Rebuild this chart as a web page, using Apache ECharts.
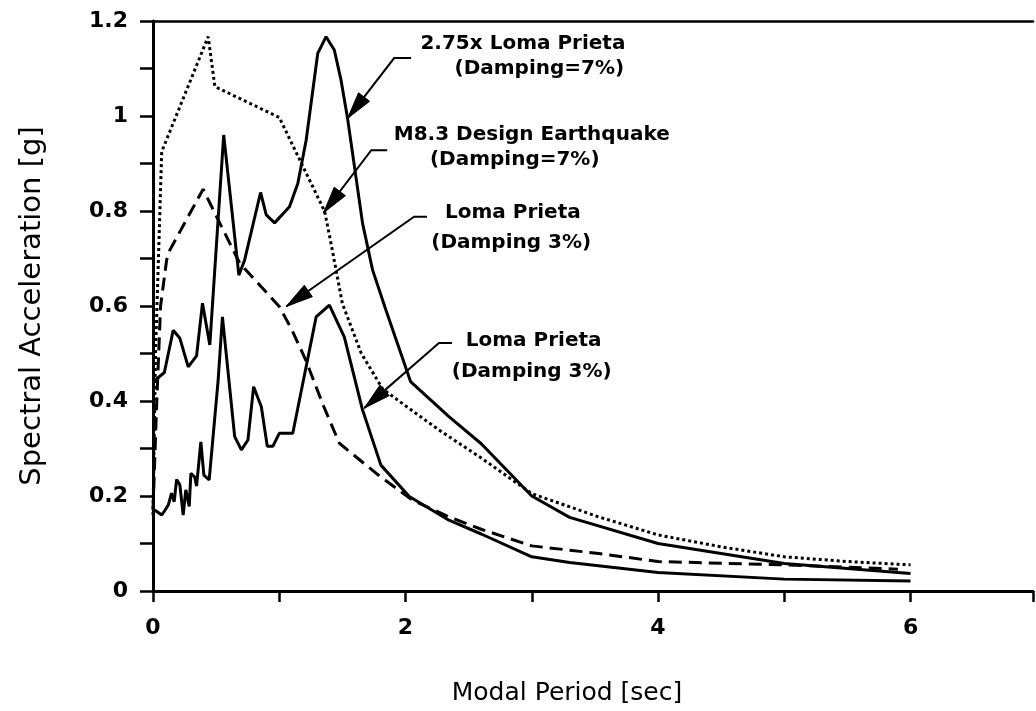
<!DOCTYPE html>
<html>
<head>
<meta charset="utf-8">
<script src="https://cdn.jsdelivr.net/npm/echarts@6/dist/echarts.min.js"></script>
<style>
html,body{margin:0;padding:0;background:#fff;}
#chart{width:1036px;height:711px;}
</style>
</head>
<body>
<div id="chart"></div>
<script>
// ---- Data ----
var designX = [0, 0.02, 0.069, 0.437, 0.49, 1.0, 1.36, 1.42, 1.5, 1.65, 1.82, 2.0, 2.265, 2.6, 3.0, 3.53, 4.0, 4.5, 5.0, 5.5, 6.0];
var designY = [0.16, 0.5, 0.925, 1.167, 1.062, 0.997, 0.799, 0.718, 0.605, 0.5, 0.425, 0.39, 0.339, 0.28, 0.205, 0.156, 0.118, 0.093, 0.072, 0.062, 0.055];

var lp275X = [0, 0.09, 0.16, 0.213, 0.279, 0.345, 0.392, 0.45, 0.56, 0.68, 0.726, 0.852, 0.897, 0.963, 1.081, 1.147, 1.213, 1.305, 1.371, 1.436, 1.489, 1.541, 1.66, 1.739, 1.844, 2.04, 2.344, 2.6, 3.0, 3.3, 4.0, 5.0, 6.0];
var lp275Y = [0.44, 0.46, 0.549, 0.532, 0.472, 0.495, 0.606, 0.518, 0.96, 0.665, 0.697, 0.839, 0.792, 0.775, 0.809, 0.858, 0.949, 1.132, 1.167, 1.139, 1.076, 0.995, 0.774, 0.676, 0.592, 0.441, 0.367, 0.31, 0.2, 0.155, 0.10, 0.058, 0.037];

var lpLowX = [0, 0.016, 0.069, 0.095, 0.121, 0.147, 0.168, 0.187, 0.213, 0.239, 0.26, 0.287, 0.30, 0.33, 0.345, 0.379, 0.403, 0.445, 0.516, 0.55, 0.647, 0.70, 0.752, 0.797, 0.858, 0.905, 0.95, 1.0, 1.107, 1.292, 1.397, 1.515, 1.66, 1.805, 2.03, 2.344, 2.6, 3.0, 3.3, 4.0, 5.0, 6.0];
var lpLowY = [0.17, 0.17, 0.16, 0.17, 0.181, 0.206, 0.188, 0.235, 0.223, 0.16, 0.213, 0.178, 0.248, 0.24, 0.221, 0.314, 0.244, 0.234, 0.444, 0.577, 0.325, 0.297, 0.318, 0.43, 0.388, 0.305, 0.305, 0.332, 0.332, 0.577, 0.602, 0.535, 0.381, 0.265, 0.199, 0.149, 0.12, 0.072, 0.06, 0.039, 0.025, 0.021];

var lp3X = [0, 0.03, 0.06, 0.108, 0.134, 0.397, 0.53, 0.687, 1.0, 1.1, 1.21, 1.35, 1.476, 1.766, 2.05, 2.344, 2.6, 3.0, 3.53, 4.0, 5.0, 5.9];
var lp3Y = [0.17, 0.4, 0.6, 0.697, 0.718, 0.846, 0.774, 0.69, 0.599, 0.55, 0.486, 0.39, 0.311, 0.248, 0.192, 0.156, 0.13, 0.095, 0.079, 0.062, 0.055, 0.046];

var xTickLabels = ['0', '2', '4', '6'];
var yTickLabels = ['0', '0.2', '0.4', '0.6', '0.8', '1', '1.2'];

// annotations: text lines and leader (data coordinates)
var annotations = [
  {lines: ['2.75x Loma Prieta', '(Damping=7%)'], textAt: [[2.93, 1.153], [3.06, 1.099]], leader: [[2.044, 1.122], [1.91, 1.122], [1.541, 0.995]]},
  {lines: ['M8.3 Design Earthquake', '(Damping=7%)'], textAt: [[3.0, 0.96], [2.865, 0.907]], leader: [[1.855, 0.928], [1.729, 0.928], [1.35, 0.796]]},
  {lines: ['Loma Prieta', '(Damping 3%)'], textAt: [[2.85, 0.796], [2.837, 0.733]], leader: [[2.17, 0.788], [2.068, 0.788], [1.055, 0.599]]},
  {lines: ['Loma Prieta', '(Damping 3%)'], textAt: [[3.015, 0.526], [3.0, 0.461]], leader: [[2.368, 0.522], [2.265, 0.522], [1.673, 0.385]]}
];

function zip(xs, ys) { return xs.map(function (x, i) { return [x, ys[i]]; }); }

var chart = echarts.init(document.getElementById('chart'), null, {renderer: 'canvas'});
var FONT = 'DejaVu Sans';
var XMAX = 6.97;

function lineSeries(name, xs, ys, type) {
  return {
    name: name, type: 'line', data: zip(xs, ys), showSymbol: false, symbol: 'none',
    lineStyle: {color: '#000', width: 3, type: type}, z: 3
  };
}

chart.setOption({
  animation: false,
  backgroundColor: '#fff',
  grid: {left: 153, top: 21, bottom: 120, right: 0, show: false, containLabel: false},
  xAxis: [{
    type: 'value', min: 0, max: XMAX, interval: 1,
    name: 'Modal Period [sec]', nameLocation: 'middle', nameGap: 90,
    nameTextStyle: {fontFamily: FONT, fontSize: 25, color: '#000', padding: [0, 52, 0, 0]},
    axisLine: {show: true, onZero: false, lineStyle: {color: '#000', width: 3}},
    axisTick: {show: true, inside: false, length: 11, lineStyle: {color: '#000', width: 2.5}},
    axisLabel: {
      margin: 26, color: '#000', fontFamily: FONT, fontWeight: 'bold', fontSize: 22,
      formatter: function (v) { var i = xTickLabels.indexOf(String(v)); return i >= 0 ? xTickLabels[i] : ''; }
    },
    splitLine: {show: false}
  }, {
    type: 'value', position: 'top', min: 0, max: XMAX,
    axisLine: {show: true, onZero: false, lineStyle: {color: '#000', width: 2.5}},
    axisTick: {show: false}, axisLabel: {show: false}, splitLine: {show: false}
  }],
  yAxis: {
    type: 'value', min: 0, max: 1.2, interval: 0.1,
    name: 'Spectral Acceleration [g]', nameLocation: 'middle', nameGap: 106,
    nameTextStyle: {fontFamily: FONT, fontSize: 29, color: '#000'},
    axisLine: {show: true, onZero: false, lineStyle: {color: '#000', width: 3}},
    axisTick: {show: true, inside: false, length: 13, lineStyle: {color: '#000', width: 2.5}},
    axisLabel: {
      margin: 25, color: '#000', fontFamily: FONT, fontWeight: 'bold', fontSize: 22,
      formatter: function (v) { var s = String(+v.toFixed(1)); return yTickLabels.indexOf(s) >= 0 ? s : ''; }
    },
    splitLine: {show: false}
  },
  series: [
    lineSeries('M8.3 Design Earthquake (Damping=7%)', designX, designY, [3, 3]),
    lineSeries('2.75x Loma Prieta (Damping=7%)', lp275X, lp275Y, 'solid'),
    lineSeries('Loma Prieta (Damping 3%) lower', lpLowX, lpLowY, 'solid'),
    lineSeries('Loma Prieta (Damping 3%)', lp3X, lp3Y, [13, 7])
  ]
});

// annotations drawn through the chart's own coordinate conversion
var g = [];
annotations.forEach(function (a) {
  a.lines.forEach(function (t, i) {
    var p = chart.convertToPixel({xAxisIndex: 0, yAxisIndex: 0}, a.textAt[i]);
    g.push({type: 'text', x: p[0], y: p[1], z: 10,
      style: {text: t, fill: '#000', font: 'bold 20px "' + FONT + '"', align: 'center', verticalAlign: 'middle'}});
  });
  var pts = a.leader.map(function (d) { return chart.convertToPixel({xAxisIndex: 0, yAxisIndex: 0}, d); });
  g.push({type: 'polyline', z: 10, shape: {points: pts}, style: {stroke: '#000', lineWidth: 2, fill: null}});
  var tip = pts[pts.length - 1], prev = pts[pts.length - 2];
  var dx = prev[0] - tip[0], dy = prev[1] - tip[1], L = Math.sqrt(dx * dx + dy * dy);
  var ux = dx / L, uy = dy / L, len = 27, hw = 7;
  var bx = tip[0] + ux * len, by = tip[1] + uy * len;
  g.push({type: 'polygon', z: 11, shape: {points: [tip, [bx - uy * hw, by + ux * hw], [bx + uy * hw, by - ux * hw]]},
    style: {fill: '#000', stroke: '#000', lineWidth: 1}});
});
chart.setOption({graphic: g});
</script>
</body>
</html>
